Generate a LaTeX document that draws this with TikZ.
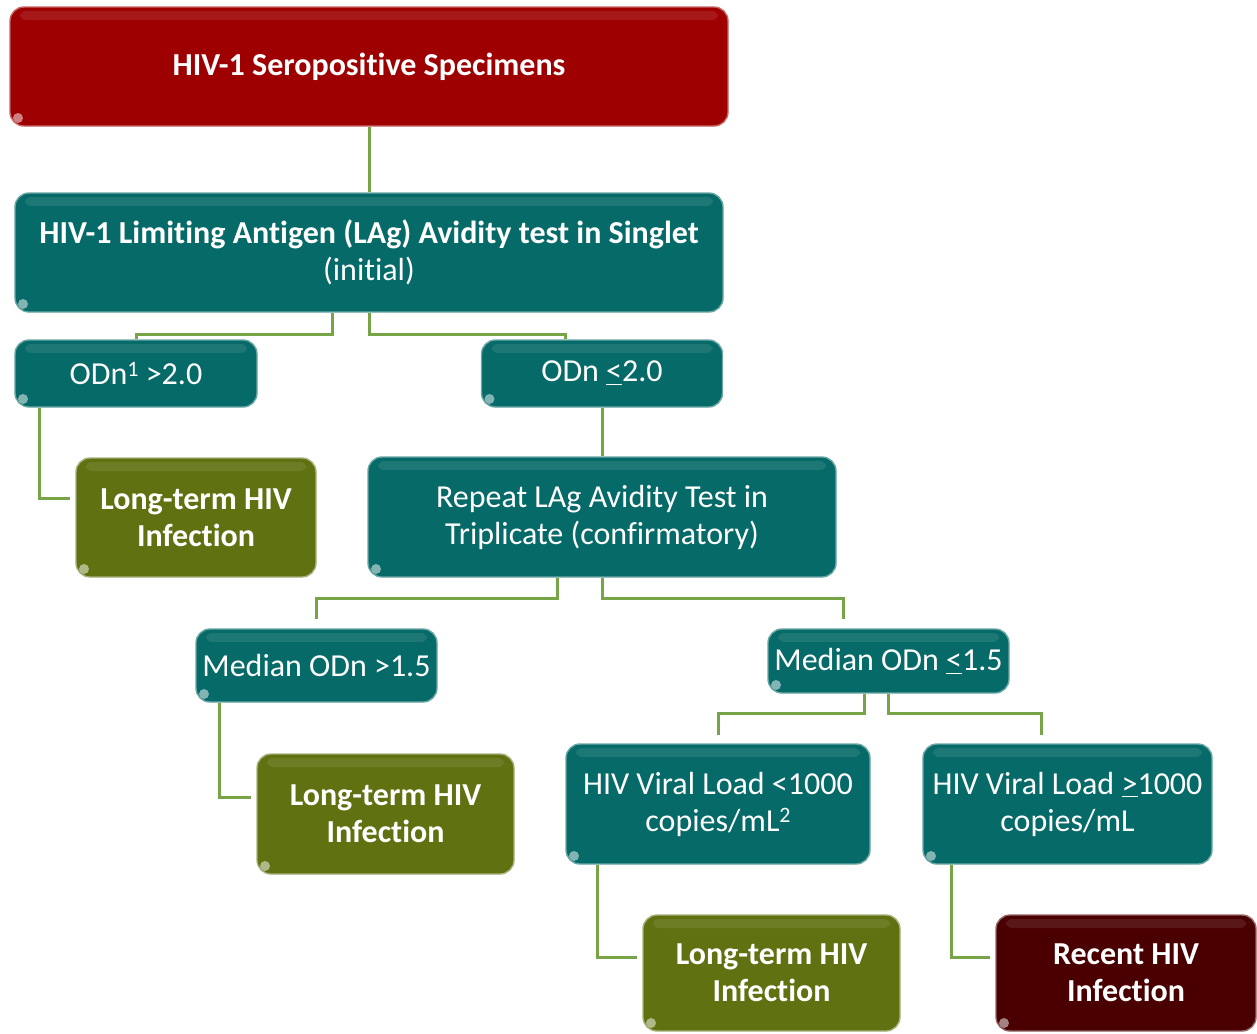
\documentclass[tikz,border=0pt]{standalone}
\usepackage{fontspec}
\setmainfont{Carlito}[Ligatures=NoCommon]
\usetikzlibrary{calc}
\definecolor{cred}{RGB}{158,0,2}
\definecolor{cteal}{RGB}{6,106,104}
\definecolor{colive}{RGB}{95,113,16}
\definecolor{cdark}{RGB}{74,0,0}
\definecolor{cline}{RGB}{120,164,72}
\newcommand{\supr}[1]{\raisebox{0.55ex}{\fontsize{11}{11}\selectfont #1}}
\begin{document}
\begin{tikzpicture}[x=0.5pt,y=-0.5pt,
  box/.style={rounded corners=7pt, text=white, align=center, inner sep=0pt,
    font=\fontsize{16}{18.5}\selectfont, line width=0.7pt,
    path picture={\fill[white,opacity=0.09,rounded corners=3pt]
      ($(path picture bounding box.north west)+(10,4)$) rectangle
      ($(path picture bounding box.north east)+(-10,13)$);
      \fill[white,opacity=0.5] ($(path picture bounding box.south west)+(8,-8)$) circle (2.5pt);}},
  redbox/.style={box, fill=cred, draw=cred!60!white},
  tealbox/.style={box, fill=cteal, draw=cteal!60!white},
  olivebox/.style={box, fill=colive, draw=colive!55!white, font=\fontsize{16}{18.5}\selectfont\bfseries},
  darkbox/.style={box, fill=cdark, draw=cdark!60!white, font=\fontsize{16}{18.5}\selectfont\bfseries},
  conn/.style={draw=cline, line width=1.5pt}]
\useasboundingbox (0,0) rectangle (1257,1033);

% nodes
\node[redbox, minimum width=359pt, minimum height=59.5pt] (top) at (369,66.5) {\bfseries HIV-1 Seropositive Specimens};
\node[tealbox, minimum width=354pt, minimum height=59.5pt] (lag) at (369,252.5) {\bfseries HIV-1 Limiting Antigen (LAg) Avidity test in Singlet\\(initial)};
\node[tealbox, minimum width=121pt, minimum height=33.5pt] (odn1) at (136,373.5) {ODn\supr{1} >2.0};
\node[tealbox, minimum width=120.5pt, minimum height=33.5pt] (odn2) at (602,373.5) {ODn \underline{<}2.0};
\node[olivebox, minimum width=120pt, minimum height=59.5pt] (lt1) at (196,517.5) {Long-term HIV\\Infection};
\node[tealbox, minimum width=234pt, minimum height=60pt] (rep) at (602,517) {Repeat LAg Avidity Test in\\Triplicate (confirmatory)};
\node[tealbox, minimum width=120.5pt, minimum height=36.5pt] (med1) at (316.5,665.5) {Median ODn >1.5};
\node[tealbox, minimum width=120.5pt, minimum height=32pt] (med2) at (888.5,661) {Median ODn \underline{<}1.5};
\node[olivebox, minimum width=128.5pt, minimum height=60pt] (lt2) at (385.5,814) {Long-term HIV\\Infection};
\node[tealbox, minimum width=152pt, minimum height=60pt] (vl1) at (718,804) {HIV Viral Load <1000\\copies/mL\supr{2}};
\node[tealbox, minimum width=144.5pt, minimum height=60pt] (vl2) at (1067.5,804) {HIV Viral Load \underline{>}1000\\copies/mL};
\node[olivebox, minimum width=128.5pt, minimum height=58pt] (lt3) at (771.5,973) {Long-term HIV\\Infection};
\node[darkbox, minimum width=130pt, minimum height=58pt] (rec) at (1126,973) {Recent HIV\\Infection};

% connectors
\draw[conn] (top.south) -- (lag.north);
\draw[conn] ($(lag.south)+(-37,0)$) |- ($(odn1.north)+(0,-5)$) -- (odn1.north);
\draw[conn] (lag.south) |- ($(odn2.north)+(-37,-5)$) -- ($(odn2.north)+(-37,0)$);
\draw[conn] ($(odn1.south)+(-97,0)$) |- ($(lt1.west)+(-5,-19)$);
\draw[conn] (odn2.south) -- (rep.north);
\draw[conn] ($(rep.south)+(-45,0)$) |- ($(med1.north)+(0,-30)$) -- ($(med1.north)+(0,-9)$);
\draw[conn] (rep.south) |- ($(med2.north)+(-45,-30)$) -- ($(med2.north)+(-45,-9)$);
\draw[conn] ($(med1.south)+(-97,0)$) |- ($(lt2.west)+(-5,-17)$);
\draw[conn] ($(med2.south)+(-24,0)$) |- ($(vl1.north)+(0,-30)$) -- ($(vl1.north)+(0,-8)$);
\draw[conn] (med2.south) |- ($(vl2.north)+(-26,-30)$) -- ($(vl2.north)+(-26,-8)$);
\draw[conn] ($(vl1.south)+(-121,0)$) |- ($(lt3.west)+(-5,-16)$);
\draw[conn] ($(vl2.south)+(-116,0)$) |- ($(rec.west)+(-5,-16)$);
\end{tikzpicture}
\end{document}
